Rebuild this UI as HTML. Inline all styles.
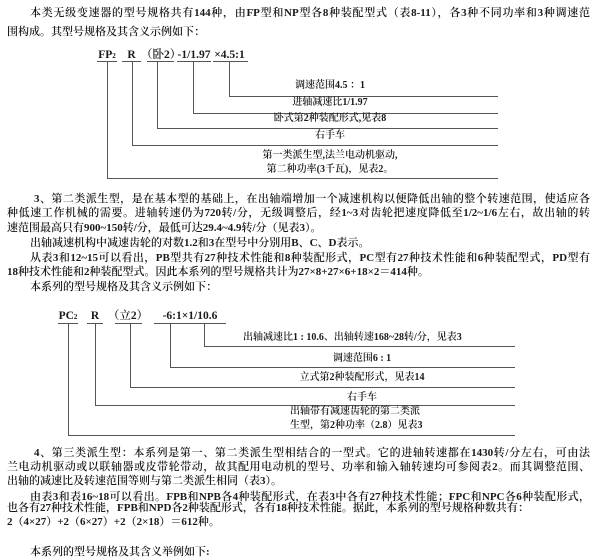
<!DOCTYPE html>
<html><head><meta charset="utf-8"><style>
html,body{margin:0;padding:0;background:#fff;}
body{width:600px;height:560px;position:relative;overflow:hidden;font-family:"Liberation Serif","Noto Serif CJK SC",serif;color:#1a1a1a;}
.t{position:absolute;font-size:11px;line-height:14px;white-space:nowrap;font-weight:600;}
.j{text-align:justify;text-align-last:justify;white-space:normal;height:14px;overflow:hidden;}
.d{position:absolute;font-size:10px;line-height:12px;white-space:nowrap;font-weight:600;}
.s{position:absolute;font-size:11.5px;line-height:12px;white-space:nowrap;font-weight:600;text-align:center;}
.c{text-align:center;}
.h,.v{position:absolute;background:#555;}
.h{height:1px;}
.v{width:1px;}
</style></head><body>
<div class="t j" style="left:30px;top:6px;width:560px;">本类无级变速器的型号规格共有144种，由FP型和NP型各8种装配型式（表8-11），各3种不同功率和3种调速范</div>
<div class="t" style="left:7px;top:25px;">围构成。其型号规格及其含义示例如下：</div>

<div class="s" style="left:97px;width:20px;top:49px;">FP<span style="font-size:7px">2</span></div>
<div class="s" style="left:122px;width:19px;top:49px;">R</div>
<div class="s" style="left:141px;width:39px;top:49px;">（卧2）</div>
<div class="s" style="left:177px;width:34px;top:49px;">-1/1.97</div>
<div class="s" style="left:211px;width:37px;top:49px;">×4.5:1</div>
<div class="h" style="left:97px;top:61px;width:20px"></div>
<div class="h" style="left:122px;top:61px;width:19px"></div>
<div class="h" style="left:147px;top:61px;width:27px"></div>
<div class="h" style="left:177px;top:61px;width:34px"></div>
<div class="h" style="left:213px;top:61px;width:35px"></div>
<div class="v" style="left:107px;top:61px;height:117px"></div>
<div class="v" style="left:132px;top:61px;height:84px"></div>
<div class="v" style="left:157px;top:61px;height:67px"></div>
<div class="v" style="left:193px;top:61px;height:52px"></div>
<div class="v" style="left:229px;top:61px;height:35px"></div>
<div class="h" style="left:229px;top:96px;width:269px"></div>
<div class="h" style="left:193px;top:113px;width:305px"></div>
<div class="h" style="left:157px;top:128px;width:341px"></div>
<div class="h" style="left:132px;top:145px;width:366px"></div>
<div class="h" style="left:107px;top:178px;width:391px"></div>
<div class="d c" style="left:230px;width:200px;top:80px;">调速范围4.5 ：1</div>
<div class="d c" style="left:230px;width:200px;top:97px;">进轴减速比1/1.97</div>
<div class="d c" style="left:230px;width:200px;top:113px;">卧式第2种装配形式,见表8</div>
<div class="d c" style="left:230px;width:200px;top:130px;">右手车</div>
<div class="d c" style="left:230px;width:200px;top:150px;">第一类派生型,法兰电动机驱动,</div>
<div class="d c" style="left:230px;width:200px;top:164px;">第二种功率(3千瓦)，见表2。</div>

<div class="t j" style="left:34px;top:192px;width:556px;">3、第二类派生型，是在基本型的基础上，在出轴端增加一个减速机构以便降低出轴的整个转速范围，使适应各</div>
<div class="t j" style="left:7px;top:206px;width:583px;">种低速工作机械的需要。进轴转速仍为720转/分，无级调整后，经1~3对齿轮把速度降低至1/2~1/6左右，故出轴的转</div>
<div class="t" style="left:7px;top:221px;">速范围最高只有900~150转/分，最低可达29.4~4.9转/分（见表3）。</div>
<div class="t" style="left:30px;top:236px;">出轴减速机构中减速齿轮的对数1.2和3在型号中分别用B、C、D表示。</div>
<div class="t j" style="left:30px;top:251px;width:560px;">从表3和12~15可以看出，PB型共有27种技术性能和8种装配形式，PC型有27种技术性能和6种装配型式，PD型有</div>
<div class="t" style="left:7px;top:265px;">18种技术性能和2种装配型式。因此本系列的型号规格共计为27×8+27×6+18×2＝414种。</div>
<div class="t" style="left:30px;top:280px;">本系列的型号规格及其含义示例如下：</div>

<div class="s" style="left:58px;width:20px;top:310px;">PC<span style="font-size:7px">2</span></div>
<div class="s" style="left:87px;width:16px;top:310px;">R</div>
<div class="s" style="left:106px;width:44px;top:310px;">（立2）</div>
<div class="s" style="left:154px;width:72px;top:310px;">-6:1×1/10.6</div>
<div class="h" style="left:58px;top:323px;width:20px"></div>
<div class="h" style="left:87px;top:323px;width:16px"></div>
<div class="h" style="left:115px;top:323px;width:27px"></div>
<div class="h" style="left:154px;top:323px;width:72px"></div>
<div class="v" style="left:68px;top:323px;height:112px"></div>
<div class="v" style="left:95px;top:323px;height:82px"></div>
<div class="v" style="left:130px;top:323px;height:64px"></div>
<div class="v" style="left:170px;top:323px;height:44px"></div>
<div class="v" style="left:204px;top:323px;height:23px"></div>
<div class="h" style="left:204px;top:346px;width:311px"></div>
<div class="h" style="left:170px;top:367px;width:345px"></div>
<div class="h" style="left:130px;top:387px;width:385px"></div>
<div class="h" style="left:95px;top:405px;width:420px"></div>
<div class="h" style="left:68px;top:435px;width:447px"></div>
<div class="d" style="left:243px;top:332px;">出轴减速比1 : 10.6、出轴转速168~28转/分，见表3</div>
<div class="d c" style="left:262px;width:200px;top:353px;">调速范围6 : 1</div>
<div class="d c" style="left:262px;width:200px;top:372px;">立式第2种装配形式，见表14</div>
<div class="d c" style="left:262px;width:200px;top:392px;">右手车</div>
<div class="d" style="left:290px;top:406px;">出轴带有减速齿轮的第二类派</div>
<div class="d" style="left:290px;top:420px;">生型，第2种功率（2.8）见表3</div>

<div class="t j" style="left:34px;top:446px;width:556px;">4、第三类派生型：本系列是第一、第二类派生型相结合的一型式。它的进轴转速都在1430转/分左右，可由法</div>
<div class="t j" style="left:7px;top:460px;width:583px;">兰电动机驱动或以联轴器或皮带轮带动，故其配用电动机的型号、功率和输入轴转速均可参阅表2。而其调整范围、</div>
<div class="t" style="left:7px;top:474px;">出轴的减速比及转速范围等则与第二类派生相同（表3）。</div>
<div class="t j" style="left:30px;top:490px;width:560px;">由表3和表16~18可以看出。FPB和NPB各4种装配形式，在表3中各有27种技术性能；FPC和NPC各6种装配形式，</div>
<div class="t" style="left:7px;top:501px;">也各有27种技术性能，FPB和NPD各2种装配形式，各有18种技术性能。据此，本系列的型号规格种数共有：</div>
<div class="t" style="left:7px;top:515px;">2（4×27）+2（6×27）+2（2×18）＝612种。</div>
<div class="t" style="left:30px;top:545px;">本系列的型号规格及其含义举例如下:</div>
</body></html>
